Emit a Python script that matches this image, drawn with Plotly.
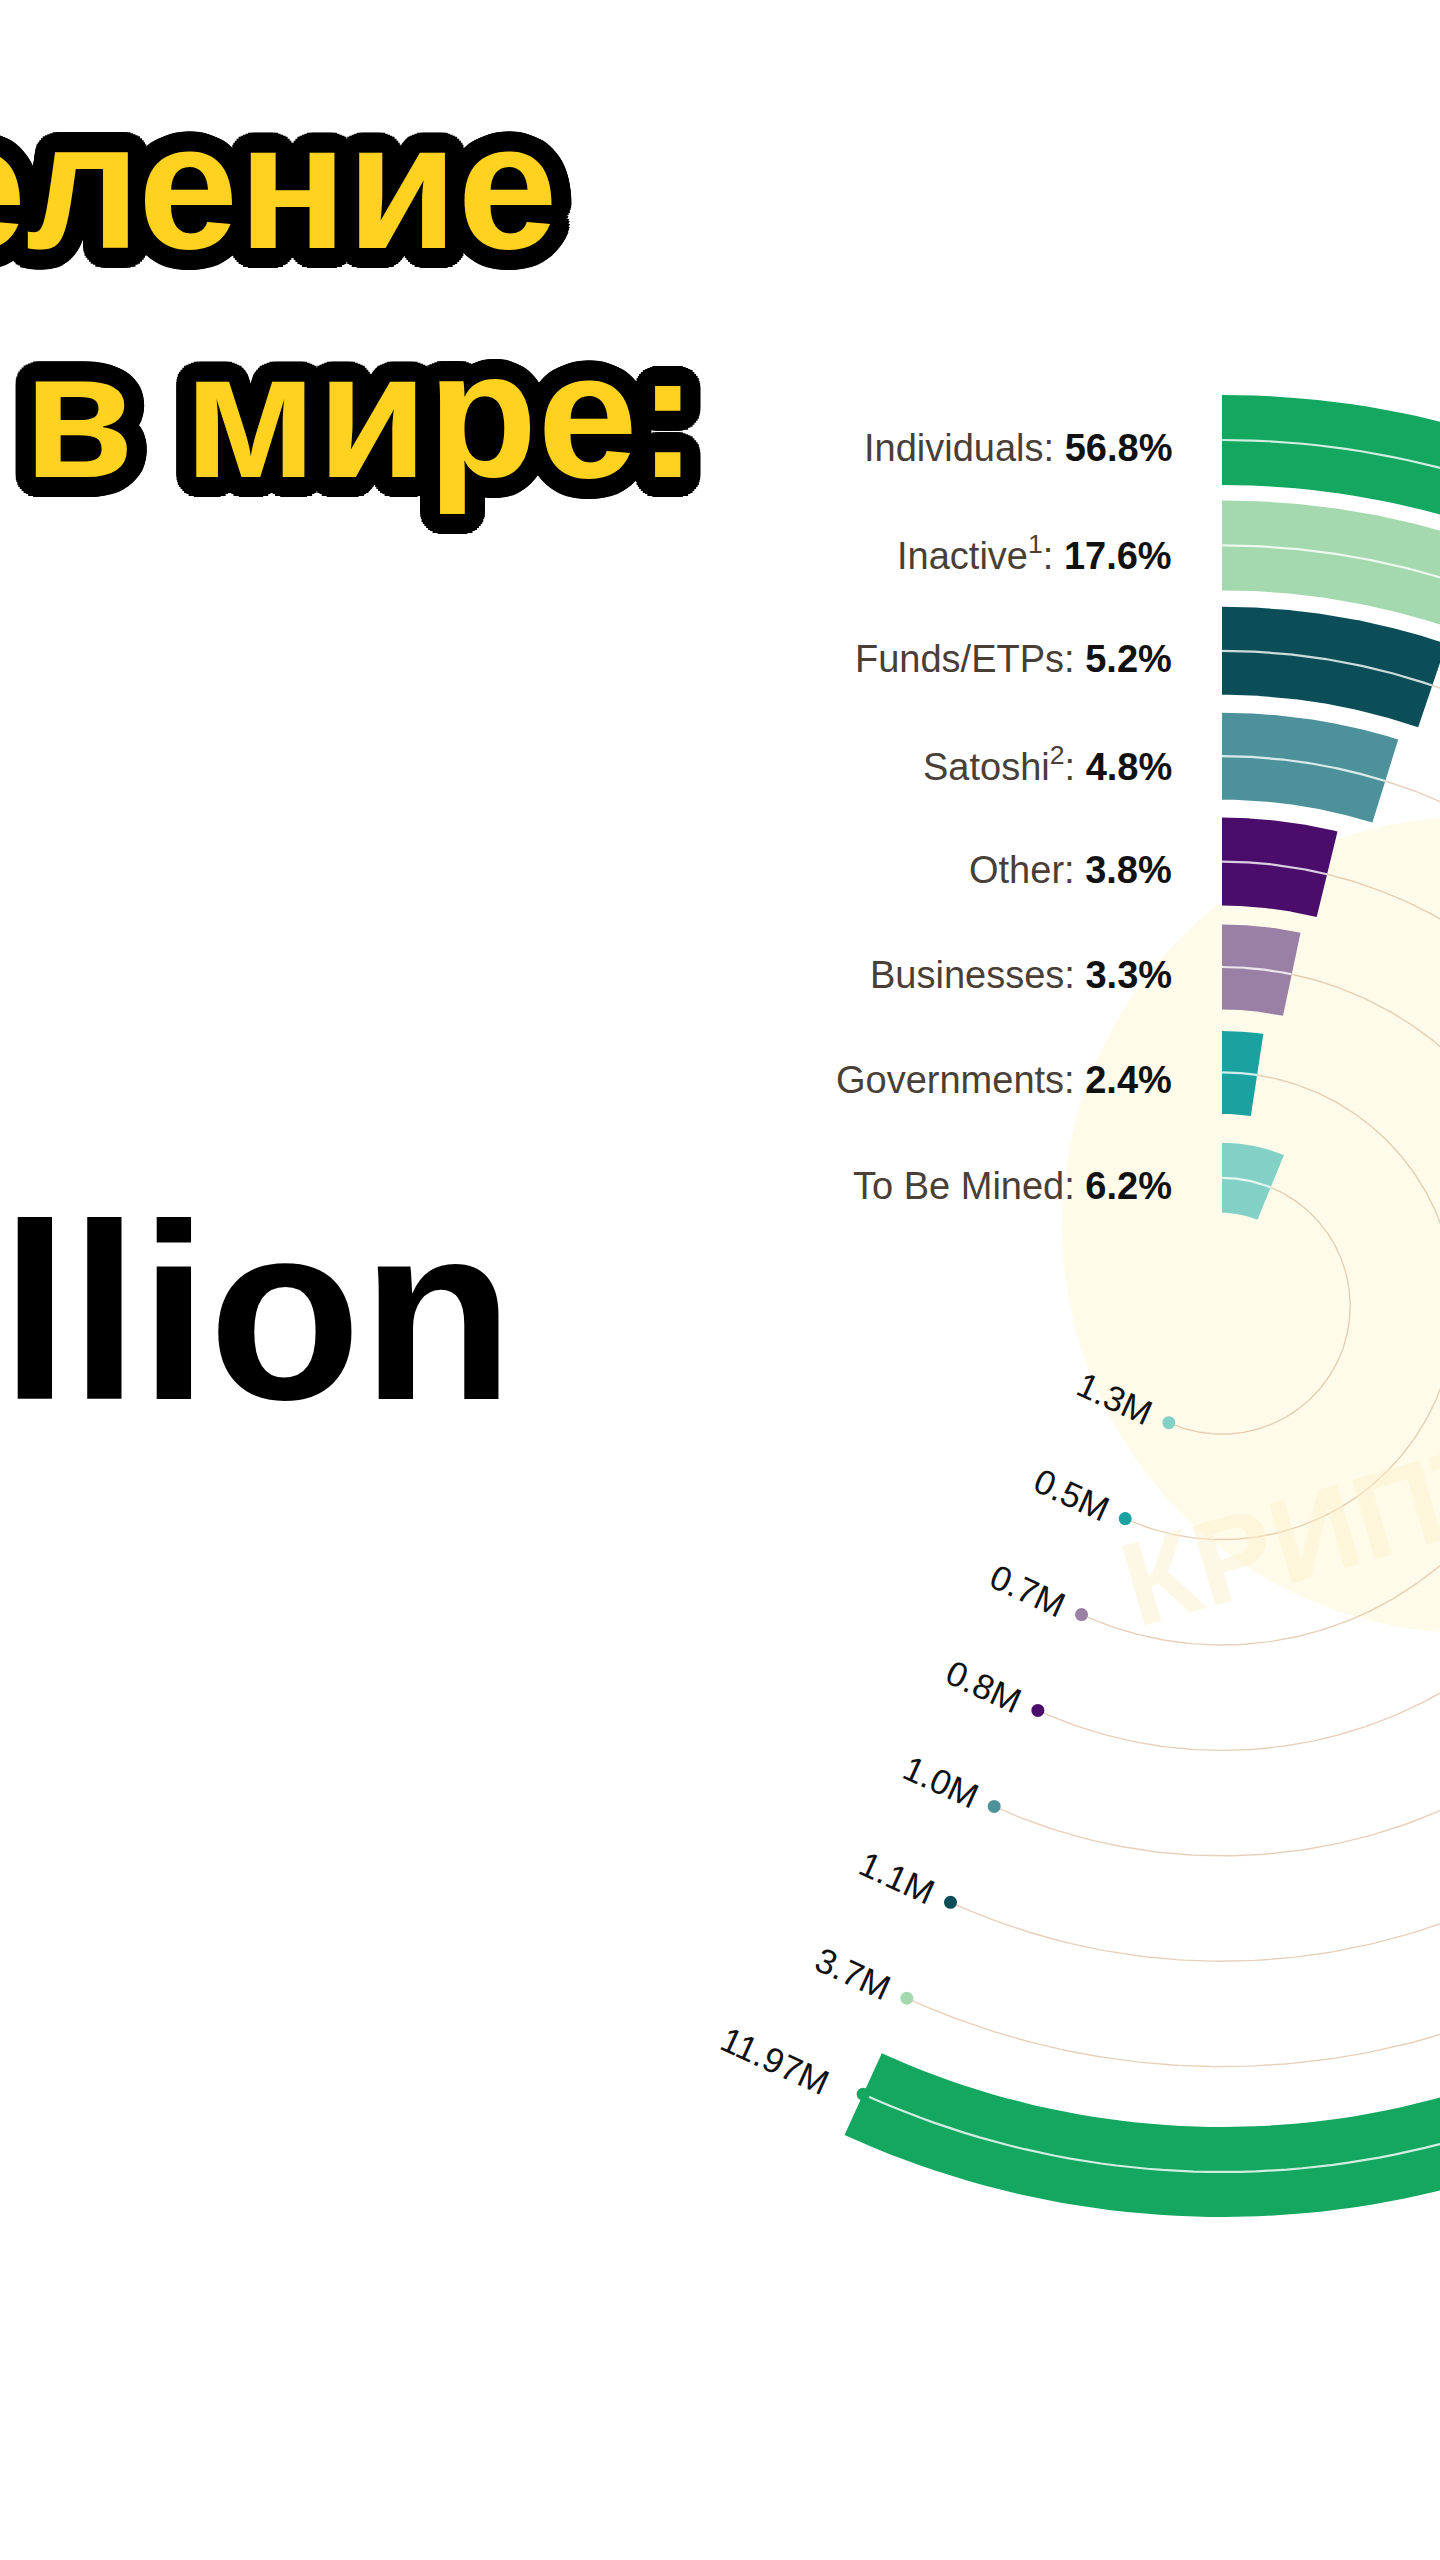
import numpy as np
import plotly.graph_objects as go

# ---------------- data ----------------
categories = ["Individuals", "Inactive", "Funds/ETPs", "Satoshi", "Other",
              "Businesses", "Governments", "To Be Mined"]
label_names = ["Individuals", "Inactive<sup>1</sup>", "Funds/ETPs", "Satoshi<sup>2</sup>",
               "Other", "Businesses", "Governments", "To Be Mined"]
shares_pct = [56.8, 17.6, 5.2, 4.8, 3.8, 3.3, 2.4, 6.2]
btc_amounts = ["11.97M", "3.7M", "1.1M", "1.0M", "0.8M", "0.7M", "0.5M", "1.3M"]
colors = ["#14a760", "#a4d9af", "#0b4e57", "#4d929a", "#4b0d6b",
          "#9b80a6", "#1aa2a1", "#83d0c6"]
title_lines = ["Распределение", "биткоина в мире:"]
big_text = "21 Million"

# ---------------- geometry (style) ----------------
W, H = 1440, 2560
CX, CY = 1222, 1306
R0, PITCH = 866, 105.4
thick = [90, 90, 88, 87, 88, 85, 83, 70]
FULL = 100.0  # a full turn = 100 %


def pt(r, deg):
    a = np.radians(deg)
    return CX + r * np.sin(a), CY - r * np.cos(a)


fig = go.Figure()

dot_deg = max(shares_pct) / FULL * 360.0

for i, (cat, pct, col) in enumerate(zip(categories, shares_pct, colors)):
    r = R0 - i * PITCH
    h = thick[i] / 2
    end = pct / FULL * 360.0
    t = np.linspace(0, end, 200)
    xo, yo = pt(r + h, t)
    xi, yi = pt(r - h, t[::-1])
    xs = np.concatenate([xo, xi, xo[:1]])
    ys = np.concatenate([yo, yi, yo[:1]])
    # track line from bar end to the marker angle
    if dot_deg > end:
        tt = np.linspace(end, dot_deg, 300)
        tx, ty = pt(r, tt)
        fig.add_trace(go.Scatter(x=tx, y=ty, mode="lines",
                                 line=dict(color="rgba(214,176,140,0.6)", width=1.4),
                                 hoverinfo="skip", showlegend=False))
    fig.add_trace(go.Scatter(x=xs, y=ys, mode="lines", fill="toself", fillcolor=col,
                             line=dict(width=0, color=col), hoverinfo="skip",
                             showlegend=False, name=cat))
    # thin light centre line
    cx_, cy_ = pt(r, t)
    fig.add_trace(go.Scatter(x=cx_, y=cy_, mode="lines",
                             line=dict(color="rgba(255,255,255,0.8)", width=2.2),
                             hoverinfo="skip", showlegend=False))
    # marker dot
    dx, dy = pt(r, dot_deg)
    fig.add_trace(go.Scatter(x=[dx], y=[dy], mode="markers",
                             marker=dict(size=13, color=col, line=dict(width=0)),
                             hoverinfo="skip", showlegend=False))

    # left label
    fig.add_annotation(x=1174, y=(CY - r) + 8, xref="x", yref="y",
                       text=f"<span style='color:#4a3f37'>{label_names[i]}:</span> <b>{pct:.1f}%</b>",
                       showarrow=False, xanchor="right", yanchor="middle",
                       font=dict(family="Liberation Sans, Arial, sans-serif", size=38, color="#111"))

    # rotated amount label
    fs = 35
    cw = {"M": 0.833, ".": 0.278}
    wtxt = sum(cw.get(c, 0.556) for c in btc_amounts[i]) * fs
    a = np.radians(dot_deg)
    tang = np.array([np.cos(a), np.sin(a)])
    rad_out = np.array([np.sin(a), -np.cos(a)])
    gap = 20 if i else 36
    c = np.array([dx, dy]) + tang * (gap + wtxt / 2) + rad_out * (6 if i == 0 else 0)
    fig.add_annotation(x=c[0], y=c[1], xref="x", yref="y", text=btc_amounts[i],
                       showarrow=False, xanchor="center", yanchor="middle",
                       textangle=dot_deg - 180,
                       font=dict(family="Liberation Sans, Arial, sans-serif", size=fs, color="#111"))

# title with black outline via text-shadow
def outline(radius, color="#000", steps=48):
    parts = []
    for rr in (radius, radius * 0.7, radius * 0.4):
        for k in range(steps):
            ang = 2 * np.pi * k / steps
            parts.append(f"{rr*np.cos(ang):.1f}px {rr*np.sin(ang):.1f}px 0 {color}")
    return ", ".join(parts)

shadow = outline(20)
for txt, xr, ym in [(title_lines[0], 560, 185), (title_lines[1], 700, 414)]:
    fig.add_annotation(x=xr, y=ym, xref="x", yref="y", text=f"<b>{txt}</b>",
                       showarrow=False, xanchor="right", yanchor="middle",
                       font=dict(family="Liberation Sans, Arial, sans-serif",
                                 size=180, color="#ffd21f", shadow=shadow))

fig.add_annotation(x=516, y=1312, xref="x", yref="y", text=f"<b>{big_text}</b>", showarrow=False,
                   xanchor="right", yanchor="middle",
                   font=dict(family="Liberation Sans, Arial, sans-serif", size=250, color="#000"))

# faint watermark
fig.add_annotation(x=1360, y=1520, xref="x", yref="y", text="<b>КРИПТО</b>", showarrow=False,
                   textangle=-16,
                   font=dict(family="Liberation Sans, sans-serif", size=120,
                             color="rgba(250,240,200,0.45)"))

fig.add_shape(type="circle", xref="x", yref="y", x0=1062, x1=1878, y0=817, y1=1633,
              fillcolor="#fffbea", line=dict(width=0), layer="below")

fig.update_layout(
    width=W, height=H, margin=dict(l=0, r=0, t=0, b=0),
    paper_bgcolor="white", plot_bgcolor="white", showlegend=False,
    xaxis=dict(range=[0, W], visible=False, fixedrange=True),
    yaxis=dict(range=[H, 0], visible=False, fixedrange=True),
)
fig.write_html("out.html")
